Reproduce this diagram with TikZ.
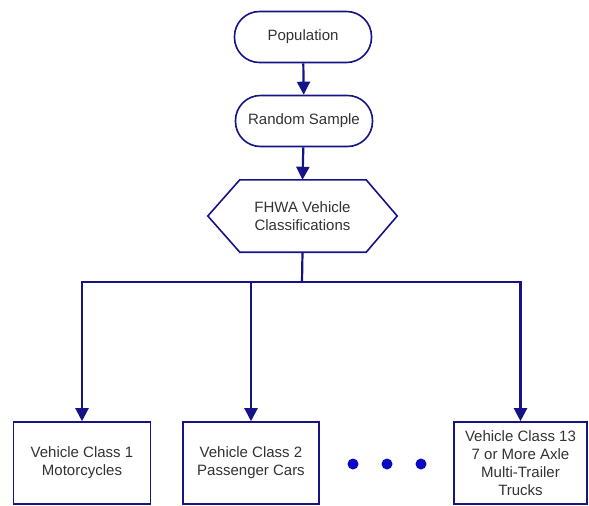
\documentclass[tikz,border=0pt]{standalone}
\usepackage{fontspec}
\setmainfont{Liberation Sans}
\usetikzlibrary{arrows.meta,calc}
\definecolor{navy}{RGB}{20,20,135}
\definecolor{dotblue}{RGB}{10,10,195}
\definecolor{txt}{RGB}{50,50,50}
\begin{document}
\begin{tikzpicture}[x=1pt,y=-1pt,
  every node/.style={text=txt,font=\fontsize{15}{17.8}\selectfont,align=center},
  term/.style={draw=navy,line width=1.6pt,rounded corners=25pt,minimum width=137pt,minimum height=51pt,inner sep=0pt},
  classbox/.style={draw=navy,line width=1.6pt,minimum height=82pt,inner sep=0pt},
  arr/.style={draw=navy,line width=2.2pt,-{Triangle[length=13pt,width=13pt]}},
  link/.style={draw=navy,line width=2.2pt,line join=miter},
  dot/.style={circle,fill=dotblue,minimum size=11pt,inner sep=0pt}]
\useasboundingbox (0,0) rectangle (589,506);
\node[term] (pop) at (303,37) {Population};
\node[term] (rs) at (304,121) {Random Sample};
\node[minimum width=189pt,minimum height=72pt,inner sep=0pt] (fhwa) at (302.5,216) {FHWA Vehicle\\Classifications};
\draw[navy,line width=1.6pt] (fhwa.west) -- ($(fhwa.north west)+(32,0)$) -- ($(fhwa.north east)+(-31,0)$) -- (fhwa.east) -- ($(fhwa.south east)+(-31,0)$) -- ($(fhwa.south west)+(32,0)$) -- cycle;
\node[classbox,minimum width=137pt] (b1) at (82,463) {Vehicle Class 1\\Motorcycles};
\node[classbox,minimum width=136pt] (b2) at (251,463) {Vehicle Class 2\\Passenger Cars};
\node[classbox,minimum width=133pt] (b3) at (520.5,463) {Vehicle Class 13\\7 or More Axle\\Multi-Trailer\\Trucks};
\node[dot] (d1) at (353,464) {};
\node[dot] (d2) at (387,464) {};
\node[dot] (d3) at (421,464) {};
\coordinate (bus) at (302,282);
\draw[arr] (pop) -- (rs);
\draw[arr] (rs) -- (fhwa.north);
\draw[link] (fhwa.south) -- (bus);
\draw[arr] (bus) -| (b1.north);
\draw[arr] (bus) -| (b3.north);
\draw[arr] (b2.north |- bus) -- (b2.north);
\end{tikzpicture}
\end{document}
